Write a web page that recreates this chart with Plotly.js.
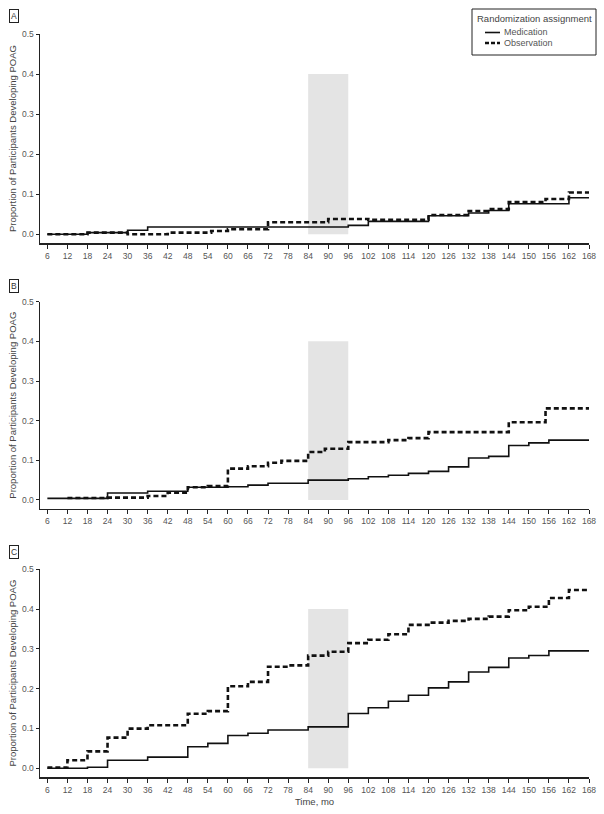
<!DOCTYPE html>
<html>
<head>
<meta charset="utf-8">
<script src="https://cdn.plot.ly/plotly-3.0.1.min.js"></script>
<style>html,body{margin:0;padding:0;background:#fff;}#chart{width:604px;height:814px;}</style>
</head>
<body>
<div id="chart"></div>
<script>
// Tick labels
var xTicks = [6,12,18,24,30,36,42,48,54,60,66,72,78,84,90,96,102,108,114,120,126,132,138,144,150,156,162,168];
var yTicks = [0, 0.1, 0.2, 0.3, 0.4, 0.5];
var yTickText = ["0.0","0.1","0.2","0.3","0.4","0.5"];
var panelLabels = ["A","B","C"];
var seriesNames = ["Medication","Observation"];
var legendTitle = "Randomization assignment";

// Panel A
var aMedT = [6, 18, 30, 36, 96, 102, 120, 132, 138, 144, 162, 168];
var aMedY = [0, 0.004, 0.01, 0.018, 0.022, 0.032, 0.046, 0.053, 0.059, 0.076, 0.091, 0.091];
var aObsT = [6, 18, 30, 42, 55, 60, 72, 90, 102, 120, 132, 138, 144, 155, 162, 168];
var aObsY = [0, 0.004, 0.0, 0.004, 0.008, 0.0125, 0.030, 0.038, 0.036, 0.048, 0.058, 0.0625, 0.080, 0.088, 0.104, 0.104];

// Panel B
var bMedT = [6, 24, 36, 48, 60, 66, 72, 84, 96, 102, 108, 114, 120, 126, 132, 138, 144, 150, 156, 168];
var bMedY = [0.004, 0.0175, 0.022, 0.032, 0.0335, 0.0375, 0.042, 0.050, 0.0535, 0.0585, 0.0625, 0.067, 0.072, 0.0835, 0.106, 0.110, 0.1375, 0.144, 0.151, 0.151];
var bObsT = [12, 24, 36, 42, 48, 54, 60, 66, 72, 76, 84, 89, 96, 108, 114, 120, 144, 155, 168];
var bObsY = [0.005, 0.006, 0.010, 0.0185, 0.032, 0.035, 0.079, 0.085, 0.094, 0.0985, 0.121, 0.129, 0.146, 0.151, 0.156, 0.171, 0.196, 0.231, 0.231];

// Panel C
var cMedT = [6, 18, 24, 36, 48, 54, 60, 66, 72, 84, 96, 102, 108, 114, 120, 126, 132, 138, 144, 150, 156, 168];
var cMedY = [0, 0.0025, 0.020, 0.028, 0.054, 0.0625, 0.0825, 0.088, 0.096, 0.104, 0.1375, 0.152, 0.1685, 0.1835, 0.202, 0.217, 0.242, 0.2535, 0.277, 0.2835, 0.295, 0.295];
var cObsT = [6, 12, 18, 24, 30, 36, 48, 54, 60, 66, 72, 78, 84, 90, 96, 102, 108, 114, 120, 126, 132, 138, 144, 150, 156, 162, 168];
var cObsY = [0.002, 0.020, 0.0425, 0.077, 0.0995, 0.108, 0.137, 0.1435, 0.206, 0.217, 0.255, 0.2585, 0.283, 0.293, 0.3145, 0.323, 0.337, 0.3605, 0.366, 0.3705, 0.3755, 0.381, 0.397, 0.406, 0.428, 0.448, 0.448];

// Shaded window
var shadeX = [84, 96];
var shadeY = [0, 0.4];

var FONT = "'Liberation Sans Narrow', 'Arial Narrow', 'Liberation Sans', Arial, sans-serif";
var ML = 40, MR = 15, MT = 34, MB = 37, W = 604, H = 814;
var PW = W - ML - MR, PH = H - MT - MB;
function px(x) { return (x - ML) / PW; }
function py(y) { return 1 - (y - MT) / PH; }

var panels = [
  {med:[aMedT,aMedY], obs:[aObsT,aObsY]},
  {med:[bMedT,bMedY], obs:[bObsT,bObsY]},
  {med:[cMedT,cMedY], obs:[cObsT,cObsY]}
];
var domains = [[0.7187, 1.0], [0.3611, 0.6397], [0.0, 0.2795]];
var labelY = [16.5, 285.5, 552];

var medLine = {color: '#111', width: 1.6};
var obsLine = {color: '#111', width: 2.6, dash: '5px,3px'};

var traces = [];
var layout = {
  width: W, height: H,
  margin: {l: ML, r: MR, t: MT, b: MB},
  paper_bgcolor: '#fff', plot_bgcolor: '#fff',
  font: {family: FONT, size: 9, color: '#555'},
  showlegend: false,
  shapes: [], annotations: []
};

panels.forEach(function(p, i) {
  var xa = i === 0 ? 'x' : 'x' + (i+1);
  var ya = i === 0 ? 'y' : 'y' + (i+1);
  traces.push({
    x: p.med[0], y: p.med[1], xaxis: xa, yaxis: ya, type: 'scatter', mode: 'lines',
    name: seriesNames[0], line: Object.assign({shape: 'hv'}, medLine)
  });
  traces.push({
    x: p.obs[0], y: p.obs[1], xaxis: xa, yaxis: ya, type: 'scatter', mode: 'lines',
    name: seriesNames[1], line: Object.assign({shape: 'hv'}, obsLine)
  });
  var xk = i === 0 ? 'xaxis' : 'xaxis' + (i+1);
  var yk = i === 0 ? 'yaxis' : 'yaxis' + (i+1);
  layout[xk] = {
    anchor: ya, domain: [0, 1], range: [3.8, 168],
    tickvals: xTicks, ticktext: xTicks.map(String),
    showline: true, linecolor: '#222', linewidth: 1.5,
    ticks: 'outside', ticklen: 4, tickcolor: '#222', tickwidth: 1,
    showgrid: false, zeroline: false,
    tickfont: {size: 8.5, color: '#555', family: FONT}, tickangle: 0
  };
  if (i === 2) {
    layout[xk].title = {text: 'Time, mo', font: {size: 9.5, color: '#444', family: FONT}, standoff: 4};
  }
  layout[yk] = {
    anchor: xa, domain: domains[i], range: [-0.022, 0.5],
    tickvals: yTicks, ticktext: yTickText,
    showline: true, linecolor: '#222', linewidth: 1.5,
    ticks: 'outside', ticklen: 3, tickcolor: '#222', tickwidth: 1,
    showgrid: false, zeroline: false,
    tickfont: {size: 8.5, color: '#555', family: FONT},
    title: {text: 'Proportion of Participants Developing POAG', font: {size: 9.5, color: '#444', family: FONT}, standoff: 3}
  };
  layout.shapes.push({
    type: 'rect', xref: xa, yref: ya, x0: shadeX[0], x1: shadeX[1], y0: shadeY[0], y1: shadeY[1],
    fillcolor: '#e4e4e4', line: {width: 0}, layer: 'below'
  });
  layout.annotations.push({
    text: panelLabels[i], xref: 'paper', yref: 'paper',
    x: px(13.5), y: py(labelY[i]), xanchor: 'center', yanchor: 'middle',
    showarrow: false, font: {size: 8.5, color: '#333', family: FONT},
    bordercolor: '#222', borderwidth: 1, borderpad: 1, bgcolor: '#fff'
  });
});

// Legend box (drawn manually)
layout.shapes.push({
  type: 'rect', xref: 'paper', yref: 'paper',
  x0: px(472), x1: px(596), y0: py(55), y1: py(9),
  fillcolor: '#fff', line: {color: '#222', width: 1}, layer: 'above'
});
layout.annotations.push({
  text: legendTitle, xref: 'paper', yref: 'paper', x: px(534), y: py(19),
  xanchor: 'center', yanchor: 'middle', showarrow: false,
  font: {size: 9.5, color: '#444', family: FONT}
});
[[32.5, medLine, seriesNames[0]], [43, obsLine, seriesNames[1]]].forEach(function(it) {
  layout.shapes.push({
    type: 'line', xref: 'paper', yref: 'paper',
    x0: px(485), x1: px(500), y0: py(it[0]), y1: py(it[0]),
    line: {color: it[1].color, width: it[1].width, dash: it[1].dash ? '4px,2px' : 'solid'}, layer: 'above'
  });
  layout.annotations.push({
    text: it[2], xref: 'paper', yref: 'paper', x: px(501.5), y: py(it[0]),
    xanchor: 'left', yanchor: 'middle', showarrow: false,
    font: {size: 9, color: '#555', family: FONT}
  });
});

Plotly.newPlot('chart', traces, layout, {displayModeBar: false, staticPlot: true});
</script>
</body>
</html>
